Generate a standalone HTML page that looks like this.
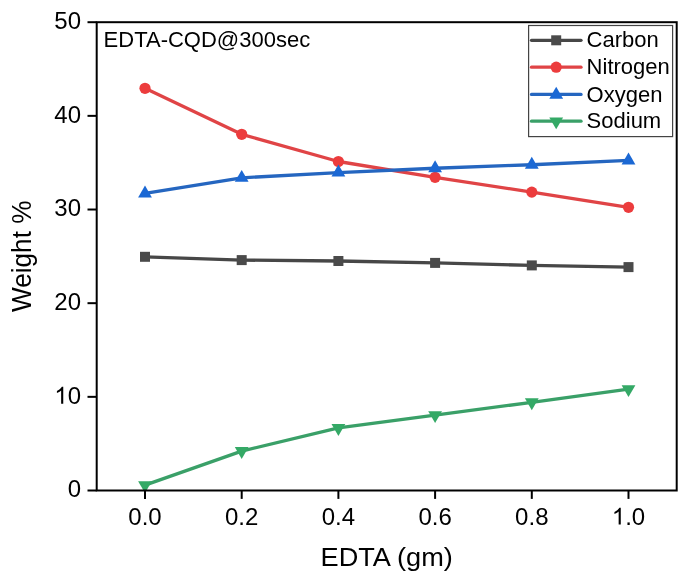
<!DOCTYPE html>
<html><head><meta charset="utf-8"><style>
html,body{margin:0;padding:0;background:#fff;}
body{width:685px;height:580px;overflow:hidden;font-family:"Liberation Sans", sans-serif;}
svg{display:block;filter:blur(0.45px);}
text{filter:grayscale(1);}
</style></head><body>
<svg width="685" height="580" viewBox="0 0 685 580" font-family="Liberation Sans, sans-serif" fill="#000">
<rect width="685" height="580" fill="#fff"/>
<polyline points="145.00,256.80 241.70,260.10 338.40,261.00 435.10,262.90 531.80,265.40 628.50,267.10" fill="none" stroke="#474747" stroke-width="3.3" stroke-linejoin="round" stroke-linecap="round"/><rect x="140.00" y="251.80" width="10" height="10" fill="#4a4a4a"/><rect x="236.70" y="255.10" width="10" height="10" fill="#4a4a4a"/><rect x="333.40" y="256.00" width="10" height="10" fill="#4a4a4a"/><rect x="430.10" y="257.90" width="10" height="10" fill="#4a4a4a"/><rect x="526.80" y="260.40" width="10" height="10" fill="#4a4a4a"/><rect x="623.50" y="262.10" width="10" height="10" fill="#4a4a4a"/><polyline points="145.00,88.30 241.70,134.30 338.40,161.50 435.10,177.30 531.80,192.10 628.50,207.30" fill="none" stroke="#e04446" stroke-width="3.3" stroke-linejoin="round" stroke-linecap="round"/><circle cx="145.00" cy="88.30" r="5.6" fill="#ec3c3d"/><circle cx="241.70" cy="134.30" r="5.6" fill="#ec3c3d"/><circle cx="338.40" cy="161.50" r="5.6" fill="#ec3c3d"/><circle cx="435.10" cy="177.30" r="5.6" fill="#ec3c3d"/><circle cx="531.80" cy="192.10" r="5.6" fill="#ec3c3d"/><circle cx="628.50" cy="207.30" r="5.6" fill="#ec3c3d"/><polyline points="145.00,193.43 241.70,177.83 338.40,172.53 435.10,168.23 531.80,164.73 628.50,160.43" fill="none" stroke="#2566c0" stroke-width="3.3" stroke-linejoin="round" stroke-linecap="round"/><polygon points="145.00,185.50 151.90,197.40 138.10,197.40" fill="#1b68d4"/><polygon points="241.70,169.90 248.60,181.80 234.80,181.80" fill="#1b68d4"/><polygon points="338.40,164.60 345.30,176.50 331.50,176.50" fill="#1b68d4"/><polygon points="435.10,160.30 442.00,172.20 428.20,172.20" fill="#1b68d4"/><polygon points="531.80,156.80 538.70,168.70 524.90,168.70" fill="#1b68d4"/><polygon points="628.50,152.50 635.40,164.40 621.60,164.40" fill="#1b68d4"/><polyline points="145.00,485.17 241.70,451.07 338.40,427.97 435.10,415.17 531.80,402.27 628.50,389.17" fill="none" stroke="#3aa068" stroke-width="3.3" stroke-linejoin="round" stroke-linecap="round"/><polygon points="145.00,493.10 151.90,481.20 138.10,481.20" fill="#34a966"/><polygon points="241.70,459.00 248.60,447.10 234.80,447.10" fill="#34a966"/><polygon points="338.40,435.90 345.30,424.00 331.50,424.00" fill="#34a966"/><polygon points="435.10,423.10 442.00,411.20 428.20,411.20" fill="#34a966"/><polygon points="531.80,410.20 538.70,398.30 524.90,398.30" fill="#34a966"/><polygon points="628.50,397.10 635.40,385.20 621.60,385.20" fill="#34a966"/>
<rect x="96.7" y="22.2" width="580.0" height="468.3" fill="none" stroke="#000" stroke-width="2.0"/>
<line x1="87.50" y1="490.50" x2="96.7" y2="490.50" stroke="#000" stroke-width="2.0"/><line x1="87.50" y1="396.84" x2="96.7" y2="396.84" stroke="#000" stroke-width="2.0"/><line x1="87.50" y1="303.18" x2="96.7" y2="303.18" stroke="#000" stroke-width="2.0"/><line x1="87.50" y1="209.52" x2="96.7" y2="209.52" stroke="#000" stroke-width="2.0"/><line x1="87.50" y1="115.86" x2="96.7" y2="115.86" stroke="#000" stroke-width="2.0"/><line x1="87.50" y1="22.20" x2="96.7" y2="22.20" stroke="#000" stroke-width="2.0"/><line x1="145.00" y1="490.5" x2="145.00" y2="498.90" stroke="#000" stroke-width="2.0"/><line x1="241.70" y1="490.5" x2="241.70" y2="498.90" stroke="#000" stroke-width="2.0"/><line x1="338.40" y1="490.5" x2="338.40" y2="498.90" stroke="#000" stroke-width="2.0"/><line x1="435.10" y1="490.5" x2="435.10" y2="498.90" stroke="#000" stroke-width="2.0"/><line x1="531.80" y1="490.5" x2="531.80" y2="498.90" stroke="#000" stroke-width="2.0"/><line x1="628.50" y1="490.5" x2="628.50" y2="498.90" stroke="#000" stroke-width="2.0"/>
<text x="81.0" y="497.30" text-anchor="end" font-size="24">0</text><text x="81.0" y="403.64" text-anchor="end" font-size="24">0</text><path transform="translate(54.31,403.64) scale(0.01172,-0.01139)" d="M763 0L583 0L583 1147C540 1106 483 1065 413 1024C343 983 280 952 223 931L223 1105C323 1152 411 1210 486 1277C561 1344 614 1409 645 1472L763 1472Z"/><text x="81.0" y="309.98" text-anchor="end" font-size="24">20</text><text x="81.0" y="216.32" text-anchor="end" font-size="24">30</text><text x="81.0" y="122.66" text-anchor="end" font-size="24">40</text><text x="81.0" y="29.00" text-anchor="end" font-size="24">50</text><text x="145.00" y="524.6" text-anchor="middle" font-size="24">0.0</text><text x="241.70" y="524.6" text-anchor="middle" font-size="24">0.2</text><text x="338.40" y="524.6" text-anchor="middle" font-size="24">0.4</text><text x="435.10" y="524.6" text-anchor="middle" font-size="24">0.6</text><text x="531.80" y="524.6" text-anchor="middle" font-size="24">0.8</text><path transform="translate(611.82,524.60) scale(0.01172,-0.01139)" d="M763 0L583 0L583 1147C540 1106 483 1065 413 1024C343 983 280 952 223 931L223 1105C323 1152 411 1210 486 1277C561 1344 614 1409 645 1472L763 1472Z"/><text x="625.16" y="524.6" font-size="24">.0</text><text transform="translate(386.7,566.1) scale(1.025,1)" text-anchor="middle" font-size="26.5">EDTA (gm)</text><text transform="translate(31.0,256.3) scale(1.05,1) rotate(-90)" text-anchor="middle" font-size="26.2">Weight %</text><text transform="translate(103.6,47)" font-size="22">EDTA-CQD@300sec</text>
<rect x="528.6" y="25.5" width="144" height="111.1" fill="#fff" stroke="#444" stroke-width="1.2"/><line x1="531.5" y1="40.3" x2="581" y2="40.3" stroke="#474747" stroke-width="3.3" stroke-linecap="round"/><rect x="551.20" y="35.30" width="10" height="10" fill="#4a4a4a"/><text transform="translate(586.6,47.40)" font-size="22">Carbon</text><line x1="531.5" y1="67.2" x2="581" y2="67.2" stroke="#e04446" stroke-width="3.3" stroke-linecap="round"/><circle cx="556.20" cy="67.20" r="5.6" fill="#ec3c3d"/><text transform="translate(586.6,74.30)" font-size="22">Nitrogen</text><line x1="531.5" y1="94.4" x2="581" y2="94.4" stroke="#2566c0" stroke-width="3.3" stroke-linecap="round"/><polygon points="556.20,86.77 563.10,98.67 549.30,98.67" fill="#1b68d4"/><text transform="translate(586.6,101.50)" font-size="22">Oxygen</text><line x1="531.5" y1="121.2" x2="581" y2="121.2" stroke="#3aa068" stroke-width="3.3" stroke-linecap="round"/><polygon points="556.20,129.33 563.10,117.43 549.30,117.43" fill="#34a966"/><text transform="translate(586.6,128.30)" font-size="22">Sodium</text>
</svg>
</body></html>
